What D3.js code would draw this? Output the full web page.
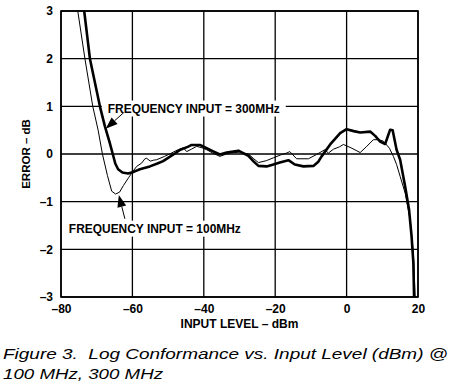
<!DOCTYPE html>
<html><head><meta charset="utf-8">
<script src="https://cdn.jsdelivr.net/npm/d3@7"></script>
<style>body{margin:0;background:#fff}svg{display:block}</style>
</head><body>
<svg id="c" width="458" height="386"></svg>
<script>
// ---- data ----
const xTicks = [-80, -60, -40, -20, 0, 20];
const yTicks = [3, 2, 1, 0, -1, -2, -3];
const xLevel300 = [-73.5,-71.9,-69.1,-67.7,-66.4,-65.5,-64.8,-64,-62.8,-61.2,-59.5,-57.9,-55.1,-53,-51.4,-50,-48.5,-46.6,-44.5,-43.4,-41.1,-39.2,-37.5,-35.5,-33.6,-30.3,-27.5,-26,-24.7,-22.4,-20.5,-18.7,-16.3,-14.5,-12.1,-9.3,-8,-7,-4.6,-1.8,0,2,3.8,6.6,8,9.4,10.8,12.2,12.9,14,15,16.4,17.5,18.2,18.7,18.9];
const err300    = [3,2,1,0.58,0.25,0,-0.2,-0.32,-0.39,-0.41,-0.37,-0.32,-0.26,-0.2,-0.15,-0.08,-0.01,0.09,0.15,0.19,0.19,0.12,0.06,-0.01,0.03,0.07,-0.04,-0.16,-0.25,-0.26,-0.22,-0.18,-0.13,-0.22,-0.26,-0.25,-0.17,-0.05,0.2,0.44,0.52,0.48,0.45,0.47,0.38,0.26,0.21,0.51,0.5,0.09,-0.12,-0.68,-1.17,-1.73,-2.28,-3];
const xLevel100 = [-75.3,-73.3,-71.1,-69.6,-68.4,-67,-65.8,-64.7,-63.6,-62.5,-61.1,-60,-58.8,-57.4,-56.5,-56,-55,-54.1,-53.2,-51,-49.3,-47.5,-45.7,-44.8,-43.5,-42,-40.5,-39.2,-37.5,-35.5,-34,-32.7,-30,-27.5,-26,-24.7,-22.5,-20.5,-18.5,-16.8,-15.9,-14,-10.7,-8.4,-6.1,-5.1,-3.7,-2,-0.9,1.5,3.8,5.5,7.5,9,10.3,12,13.1,14,15,16.4,17.8,18.7,19.2];
const err100    = [3,2,1,0.5,0,-0.45,-0.78,-0.84,-0.8,-0.66,-0.5,-0.38,-0.26,-0.19,-0.1,-0.09,-0.15,-0.13,-0.12,-0.05,0.01,0.08,0.13,0.05,0.1,0.16,0.13,0.09,0.02,-0.05,-0.01,0.02,0.04,0,-0.1,-0.18,-0.14,-0.08,-0.02,0.02,0.05,-0.1,-0.1,-0.01,0.09,0.02,0.1,0.15,0.2,0.12,0.03,0.15,0.3,0.3,0.27,0.12,-0.05,-0.22,-0.47,-0.82,-1.38,-2.08,-3];
const labels = ["FREQUENCY INPUT = 300MHz", "FREQUENCY INPUT = 100MHz"];
const xTitle = "INPUT LEVEL \u2013 dBm";
const yTitle = "ERROR \u2013 dB";
const caption = ["Figure 3.  Log Conformance vs. Input Level (dBm) @", "100 MHz, 300 MHz"];

// ---- chart ----
const svg = d3.select("#c");
const L = 61, R = 418, T = 11, B = 297;
const x = d3.scaleLinear().domain([-80, 20]).range([L, R]);
const y = d3.scaleLinear().domain([-3, 3]).range([B, T]);
const font = "'Liberation Sans', Arial, Helvetica, sans-serif";
const fmt = d => d < 0 ? "\u2013" + Math.abs(d) : String(d);

// grid
const g = svg.append("g");
g.selectAll(".vx").data(xTicks).join("line")
  .attr("x1", d => x(d)).attr("x2", d => x(d)).attr("y1", T).attr("y2", B)
  .attr("stroke", "#000").attr("stroke-width", 1.3);
g.selectAll(".hy").data(yTicks).join("line")
  .attr("y1", d => y(d)).attr("y2", d => y(d)).attr("x1", L).attr("x2", R)
  .attr("stroke", "#000").attr("stroke-width", 1.3);
svg.append("rect").attr("x", L).attr("y", T).attr("width", R - L).attr("height", B - T)
  .attr("fill", "none").attr("stroke", "#000").attr("stroke-width", 1.6);

// axes labels via d3 axes
const xAxis = svg.append("g").attr("transform", `translate(0,${B})`)
  .call(d3.axisBottom(x).tickValues(xTicks).tickFormat(fmt).tickSize(0).tickPadding(7.5));
xAxis.select(".domain").remove();
xAxis.selectAll("text").attr("font-family", font).attr("font-weight", "bold").attr("font-size", 12).attr("fill", "#000");
const yAxis = svg.append("g").attr("transform", `translate(${L},0)`)
  .call(d3.axisLeft(y).tickValues(yTicks).tickFormat(fmt).tickSize(0).tickPadding(8));
yAxis.select(".domain").remove();
yAxis.selectAll("text").attr("font-family", font).attr("font-weight", "bold").attr("font-size", 12).attr("fill", "#000");

svg.append("text").attr("x", (L + R) / 2).attr("y", 328).attr("text-anchor", "middle")
  .attr("font-family", font).attr("font-weight", "bold").attr("font-size", 12).text(xTitle);
svg.append("text").attr("transform", `translate(30,${(T + B) / 2}) rotate(-90)`).attr("text-anchor", "middle")
  .attr("font-family", font).attr("font-weight", "bold").attr("font-size", 11.5).text(yTitle);

// label backgrounds and labels
const labelPos = [[-66.9, 0.87], [-77.8, -1.65]];
labels.forEach((t, i) => {
  const lx = x(labelPos[i][0]), ly = y(labelPos[i][1]);
  svg.append("rect").attr("x", lx - 6).attr("y", ly - 12).attr("width", 184).attr("height", 16).attr("fill", "#fff");
  svg.append("text").attr("x", lx).attr("y", ly).attr("font-family", font).attr("font-weight", "bold")
    .attr("font-size", 12).attr("textLength", 172).attr("lengthAdjust", "spacingAndGlyphs").text(t);
});

// curves
svg.append("clipPath").attr("id", "pc").append("rect")
  .attr("x", L).attr("y", T).attr("width", R - L).attr("height", B - T);
const line = d3.line().x(d => x(d[0])).y(d => y(d[1]));
svg.append("path").datum(xLevel100.map((v, i) => [v, err100[i]])).attr("d", line)
  .attr("fill", "none").attr("stroke", "#000").attr("stroke-width", 1).attr("clip-path", "url(#pc)");
svg.append("path").datum(xLevel300.map((v, i) => [v, err300[i]])).attr("d", line)
  .attr("fill", "none").attr("stroke", "#000").attr("stroke-width", 2.6).attr("stroke-linejoin", "round").attr("clip-path", "url(#pc)");

// arrows (tail -> tip in data units)
const arrows = [[[-62.4, 0.87], [-67.5, 0.53]], [[-62.1, -1.36], [-63.8, -0.86]]];
arrows.forEach(([a, b]) => {
  const x1 = x(a[0]), y1 = y(a[1]), x2 = x(b[0]), y2 = y(b[1]);
  const ang = Math.atan2(y2 - y1, x2 - x1), len = 12, w = 4.5;
  const bx = x2 - len * Math.cos(ang), by = y2 - len * Math.sin(ang);
  svg.append("line").attr("x1", x1).attr("y1", y1).attr("x2", bx).attr("y2", by).attr("stroke", "#000").attr("stroke-width", 1);
  const px = -Math.sin(ang) * w, py = Math.cos(ang) * w;
  svg.append("path").attr("d", `M${x2},${y2}L${bx + px},${by + py}L${bx - px},${by - py}Z`).attr("fill", "#000");
});

// caption
svg.append("text").attr("x", 3).attr("y", 359).attr("font-family", font).attr("font-style", "italic")
  .style("white-space", "pre").attr("xml:space", "preserve")
  .attr("font-size", 15.5).attr("textLength", 445).attr("lengthAdjust", "spacingAndGlyphs").text(caption[0]);
svg.append("text").attr("x", 3).attr("y", 379).attr("font-family", font).attr("font-style", "italic")
  .attr("font-size", 15.5).attr("textLength", 160).attr("lengthAdjust", "spacingAndGlyphs").text(caption[1]);
</script>
</body></html>
